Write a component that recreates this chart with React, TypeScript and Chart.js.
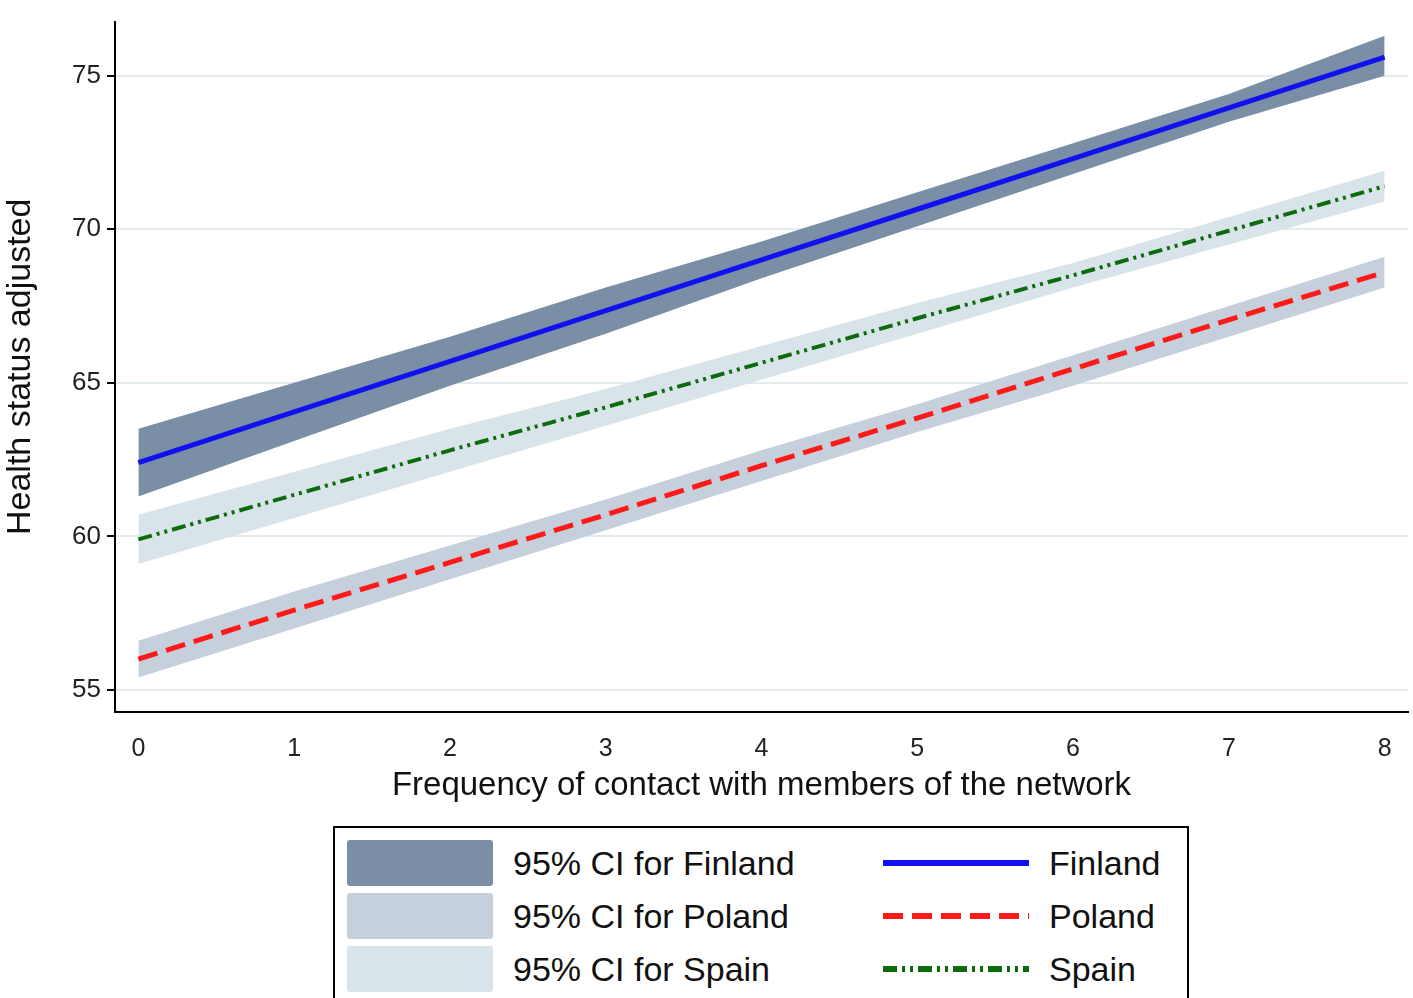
import React, { useEffect, useRef } from 'react';
import { Chart, registerables } from 'chart.js';

Chart.register(...registerables);

const xs = [0, 1, 2, 3, 4, 5, 6, 7, 8];
const finland = [62.4, 64.05, 65.7, 67.35, 69.0, 70.65, 72.3, 73.95, 75.6];
const finlandLo = [61.3, 63.1, 64.9, 66.6, 68.4, 70.1, 71.8, 73.5, 75.0];
const finlandHi = [63.5, 65.0, 66.5, 68.1, 69.6, 71.2, 72.8, 74.4, 76.3];
const poland = [56.0, 57.6, 59.15, 60.7, 62.3, 63.85, 65.45, 67.05, 68.6];
const polandLo = [55.4, 57.0, 58.6, 60.2, 61.8, 63.4, 64.9, 66.5, 68.1];
const polandHi = [56.6, 58.2, 59.7, 61.2, 62.8, 64.3, 65.9, 67.5, 69.1];
const spain = [59.9, 61.35, 62.8, 64.2, 65.65, 67.1, 68.5, 69.95, 71.4];
const spainLo = [59.1, 60.6, 62.1, 63.6, 65.1, 66.6, 68.1, 69.5, 70.9];
const spainHi = [60.7, 62.1, 63.5, 64.8, 66.2, 67.6, 68.9, 70.4, 71.9];
const yTicks = [55, 60, 65, 70, 75];

const FONT = '"Liberation Sans", Arial, sans-serif';
const pts = (ys: number[]) => xs.map((x, i) => ({ x, y: ys[i] }));

const band = (lo: number[], hi: number[], color: string) => [
  { data: pts(lo), borderWidth: 0, pointRadius: 0, fill: false, backgroundColor: color, order: 2 },
  { data: pts(hi), borderWidth: 0, pointRadius: 0, fill: '-1', backgroundColor: color, order: 2 },
];

const DASH_POLAND = [20, 9];
const DASH_SPAIN = [14, 5, 3, 5, 3, 5];

const App = () => {
  const chartRef = useRef<HTMLCanvasElement>(null);

  useEffect(() => {
    document.body.style.margin = '0';
    const chart = new Chart(chartRef.current!, {
      type: 'line',
      data: {
        datasets: [
          ...band(finlandLo, finlandHi, '#7a8fa5'),
          ...band(polandLo, polandHi, '#c6d0dc'),
          ...band(spainLo, spainHi, '#d9e4ea'),
          { data: pts(finland), borderColor: '#1010f0', borderWidth: 5, pointRadius: 0, fill: false, order: 0 },
          { data: pts(poland), borderColor: '#ff1a1a', borderWidth: 5, borderDash: DASH_POLAND, pointRadius: 0, fill: false, order: 0 },
          { data: pts(spain), borderColor: '#0d6b0d', borderWidth: 4, borderDash: DASH_SPAIN, pointRadius: 0, fill: false, order: 0 },
        ] as any,
      },
      options: {
        animation: false,
        responsive: false,
        layout: { padding: { top: -4, right: 5 } },
        plugins: { legend: { display: false }, tooltip: { enabled: false } },
        scales: {
          x: {
            type: 'linear',
            min: -0.15,
            max: 8.15,
            afterBuildTicks: (s: any) => { s.ticks = xs.map((v) => ({ value: v })); },
            grid: { display: false, drawTicks: true, tickLength: 8, tickColor: '#000' } as any,
            border: { color: '#000', width: 2 },
            ticks: { color: '#222', font: { family: FONT, size: 25 }, padding: 14 },
            title: { display: true, text: 'Frequency of contact with members of the network', color: '#111', font: { family: FONT, size: 33 }, padding: { top: 0 } },
            afterFit: (s: any) => { s.height = 98; },
          },
          y: {
            min: 54.28,
            max: 76.76,
            afterBuildTicks: (s: any) => { s.ticks = yTicks.map((v) => ({ value: v })); },
            grid: { color: '#e3ebee', lineWidth: 2, tickLength: 8, tickColor: '#000' } as any,
            border: { color: '#000', width: 2 },
            ticks: { color: '#222', font: { family: FONT, size: 26 }, padding: 6 },
            title: { display: true, text: 'Health status adjusted', color: '#111', font: { family: FONT, size: 34 }, padding: 0 },
            afterFit: (s: any) => { s.width = 115; },
          },
        },
      },
    });
    return () => chart.destroy();
  }, []);

  const sw = (bg: string) => (
    <div style={{ width: 146, height: 46, background: bg, borderRadius: 3 }} />
  );
  const ln = (color: string, dash: number[]) => (
    <svg width={146} height={46}>
      <line x1={0} y1={23} x2={146} y2={23} stroke={color} strokeWidth={6} strokeDasharray={dash.length ? dash.join(' ') : undefined} />
    </svg>
  );
  const txt = (t: string) => <span style={{ fontSize: 34, color: '#111' }}>{t}</span>;

  const rows: [string, string, string, number[], string][] = [
    ['#7a8fa5', '95% CI for Finland', '#1010f0', [], 'Finland'],
    ['#c6d0dc', '95% CI for Poland', '#ff1a1a', DASH_POLAND, 'Poland'],
    ['#d9e4ea', '95% CI for Spain', '#0d6b0d', DASH_SPAIN, 'Spain'],
  ];

  return (
    <div style={{ position: 'relative', width: 1413, height: 998, fontFamily: FONT, overflow: 'hidden', background: '#fff' }}>
      <canvas ref={chartRef} width={1413} height={810} style={{ position: 'absolute', left: 0, top: 0 }} />
      <div style={{ position: 'absolute', left: 333, top: 826, width: 856, height: 200, border: '2px solid #000', boxSizing: 'border-box' }}>
        {rows.map(([bg, t1, c, d, t2], i) => (
          <div key={i} style={{ position: 'absolute', top: 12 + i * 53, left: 12, display: 'flex', alignItems: 'center' }}>
            {sw(bg)}
            <div style={{ width: 20 }} />
            <div style={{ width: 370 }}>{txt(t1)}</div>
            {ln(c, d)}
            <div style={{ width: 20 }} />
            {txt(t2)}
          </div>
        ))}
      </div>
    </div>
  );
};

export default App;
